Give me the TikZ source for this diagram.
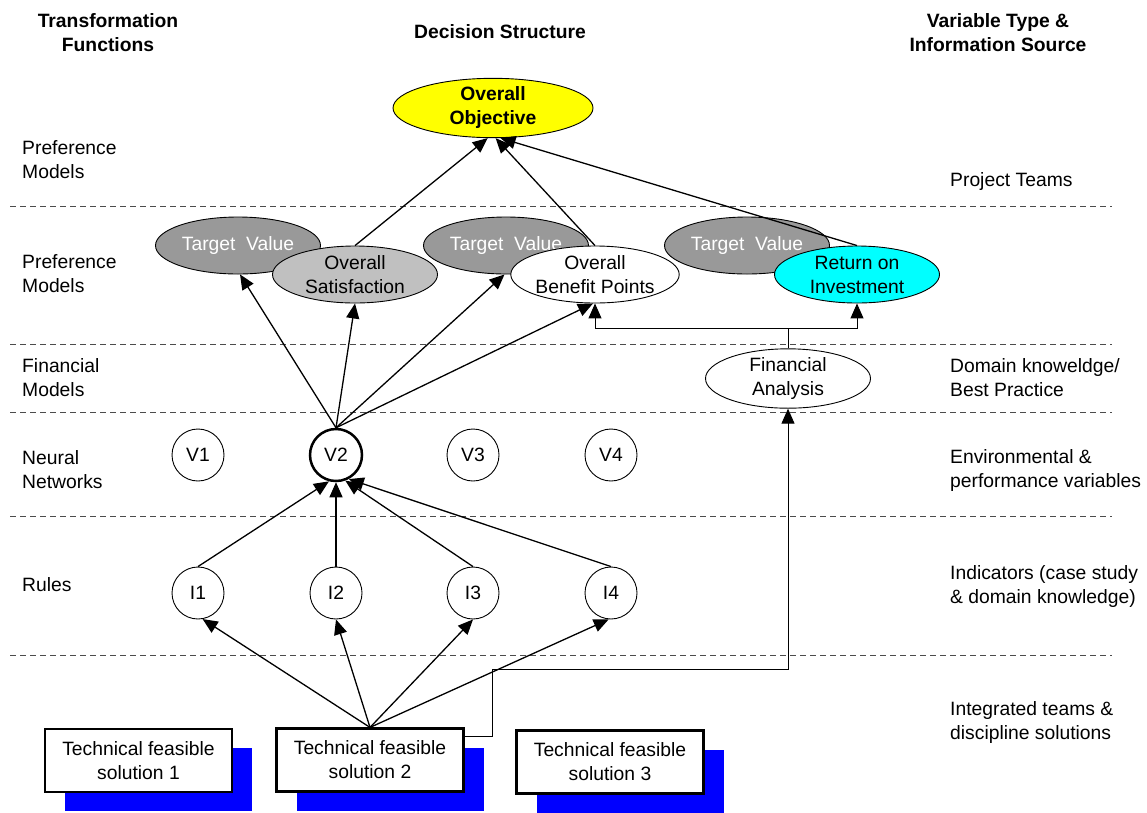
\documentclass[tikz,border=0pt]{standalone}
\usepackage{fontspec}
\setmainfont{Liberation Sans}
\usetikzlibrary{shapes.geometric,arrows.meta,shadows}
\newcommand\myfs{\fontsize{19.3}{24}\selectfont}
\definecolor{tvgray}{HTML}{999999}
\definecolor{osgray}{HTML}{C0C0C0}
\definecolor{roicyan}{HTML}{00FFFF}
\definecolor{ooyellow}{HTML}{FFFF00}
\tikzset{
  ell/.style={ellipse, draw, line width=0.9pt, minimum width=165pt, minimum height=57pt, inner sep=0pt, align=center, font=\myfs},
  tv/.style={ell, fill=tvgray, text=white},
  circ/.style={circle, draw, line width=0.9pt, minimum size=52pt, inner sep=0pt, font=\myfs},
  arr/.style={-{Triangle[length=15pt,width=13pt]}, line width=1.3pt},
  thinarr/.style={-{Triangle[length=15pt,width=13pt]}, line width=1pt},
  sep/.style={draw=black!70, line width=1pt, dash pattern=on 6pt off 4pt},
  solbox/.style={draw, line width=2.2pt, fill=white, minimum width=187pt, minimum height=63pt, inner sep=0pt, align=center, font=\myfs,
    general shadow={fill=blue, shadow xshift=20pt, shadow yshift=-19pt}},
  lab/.style={align=left, anchor=west, font=\myfs, inner sep=0pt},
  head/.style={align=center, font=\myfs\bfseries, inner sep=0pt}
}
\begin{document}
\begin{tikzpicture}[x=1pt,y=-1pt]
\useasboundingbox (0,0) rectangle (1147,812);
% separators
\foreach \yy in {206,344,412,516,655}
  \draw[sep] (10,\yy) -- (1112,\yy);
% headers
\node[head] (h1) at (108,33) {Transformation\\Functions};
\node[head] (h2) at (500,32) {Decision Structure};
\node[head] (h3) at (998,33) {Variable Type \&\\Information Source};
% left labels
\node[lab] (l1) at (22,160) {Preference\\Models};
\node[lab] (l2) at (22,274) {Preference\\Models};
\node[lab] (l3) at (22,378) {Financial\\Models};
\node[lab] (l4) at (22,470) {Neural\\Networks};
\node[lab] (l5) at (22,585) {Rules};
% right labels
\node[lab] (r1) at (950,182) {Project Teams};
\node[lab] (r2) at (950,378) {Domain knoweldge/\\Best Practice};
\node[lab] (r3) at (950,470) {Environmental \&\\performance variables};
\node[lab] (r4) at (950,586) {Indicators (case study\\\& domain knowledge)};
\node[lab] (r5) at (950,722) {Integrated teams \&\\discipline solutions};
% decision nodes
\node[ell, fill=ooyellow, minimum width=200pt, font=\myfs\bfseries] (OO) at (493,108) {Overall\\Objective};
\node[tv] (TV1) at (238,245.5) {Target\ \ Value};
\node[ell, fill=osgray] (OS) at (355,274.5) {Overall\\Satisfaction};
\node[tv] (TV2) at (506,245.5) {Target\ \ Value};
\node[ell, fill=white] (OBP) at (595,274.5) {Overall\\Benefit Points};
\node[tv] (TV3) at (747,245.5) {Target\ \ Value};
\node[ell, fill=roicyan] (ROI) at (857,274.5) {Return on\\Investment};
\node[ell, fill=white] (FA) at (788,378.5) {Financial\\Analysis};
% variables
\node[circ] (V1) at (198,455) {V1};
\node[circ, line width=2.5pt] (V2) at (336,455) {V2};
\node[circ] (V3) at (473,455) {V3};
\node[circ] (V4) at (611,455) {V4};
\node[circ] (I1) at (198,593) {I1};
\node[circ] (I2) at (336,593) {I2};
\node[circ] (I3) at (473,593) {I3};
\node[circ] (I4) at (611,593) {I4};
% solutions
\node[solbox] (B1) at (138.5,760.5) {Technical feasible\\solution 1};
\node[solbox] (B2) at (370,760) {Technical feasible\\solution 2};
\node[solbox] (B3) at (610,762) {Technical feasible\\solution 3};
% connectors
\draw[arr] (OS.north) -- (OO.-100);
\draw[arr] (OBP.north) -- (OO.-85);
\draw[arr] (ROI.north) -- (OO.-76);
\draw[arr] (V2.north) -- (TV1.-86);
\draw[arr] (V2.north) -- (OS.south);
\draw[arr] (V2.north) -- (TV2.-93);
\draw[arr] (V2.north) -- (OBP.-94);
\coordinate (j) at (788,328);
\draw[thinarr] (FA.north) -- (j) -| (OBP.south);
\draw[thinarr] (j) -| (ROI.south);
\draw[arr] (I1.north) -- (V2.-105);
\draw[arr] (I2.north) -- (V2.south);
\draw[arr] (I3.north) -- (V2.-70);
\draw[arr] (I4.north) -- (V2.-62);
\draw[arr] (B2.north) -- (I1.-80);
\draw[arr] (B2.north) -- (I2.south);
\draw[arr] (B2.north) -- (I3.south);
\draw[arr] (B2.north) -- (I4.-95);
\coordinate (k1) at (492,669);
\draw[thinarr] ([yshift=-9pt]B2.north east) -| (k1) -- (k1 -| FA.south) -- (FA.south);
\end{tikzpicture}
\end{document}
